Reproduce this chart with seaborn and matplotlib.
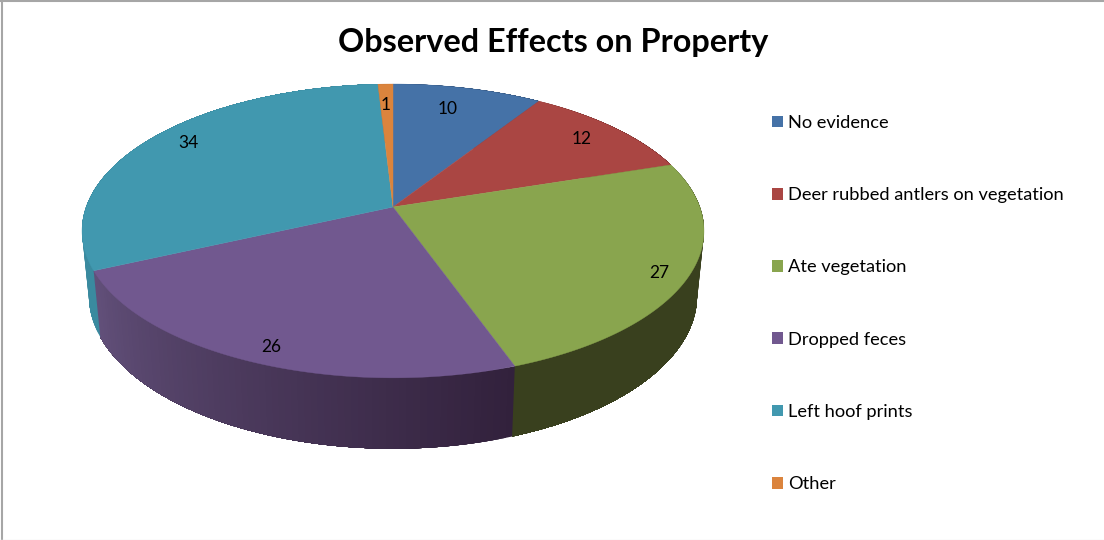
import numpy as np
import matplotlib
matplotlib.use('Agg')
import matplotlib.pyplot as plt
from matplotlib.patches import Patch
import seaborn as sns

# --- data ---
categories = ['No evidence', 'Deer rubbed antlers on vegetation', 'Ate vegetation',
              'Dropped feces', 'Left hoof prints', 'Other']
values = [10, 12, 27, 26, 34, 1]
top_colors = ['#4572A7', '#AA4643', '#89A54E', '#71588F', '#4198AF', '#DB843D']
# side wall shading, first colour at the start of the slice, second at the end (clockwise)
side_start = ['#2B4568', '#692B29', '#39401E', '#32213C', '#3A8A9F', '#8A5226']
side_end = ['#2B4568', '#692B29', '#39401E', '#62507A', '#3A8A9F', '#8A5226']
title = 'Observed Effects on Property'

sns.set_theme(style='white')
plt.rcParams['font.family'] = ['Lato', 'DejaVu Sans']

palette = sns.color_palette(top_colors)

# perspective of the tilted pie, in pixels of the 1104x540 picture
CX, TOP_Y, BOTTOM_Y = 393, 207, 270.7
A, B = 306.8, 143
A_LOW, B_LOW = 300, 149
K = 0.163


def project(theta, r=1.0, low=False):
    # theta is clockwise from 12 o'clock
    x = r * np.sin(theta)
    y = r * np.cos(theta)
    w = 1 + K * y
    if low:
        return CX + A_LOW * x / w, BOTTOM_Y - B_LOW * y / w
    return CX + A * x / w, TOP_Y - B * y / w


fig = plt.figure(figsize=(11.04, 5.40), dpi=100)
ax = fig.add_axes([0, 0, 1, 1])
ax.set_xlim(0, 1104)
ax.set_ylim(540, 0)
ax.axis('off')

edges = np.cumsum([0] + values) / sum(values) * 2 * np.pi

# side walls first, the top hides the back part of them
for i in range(len(values)):
    n = max(2, int(values[i] * 3))
    thetas = np.linspace(edges[i], edges[i + 1], n + 1)
    c0 = np.array(matplotlib.colors.to_rgb(side_start[i]))
    c1 = np.array(matplotlib.colors.to_rgb(side_end[i]))
    # every strip runs on to the end of the slice, so no seams show between strips
    for j in range(n):
        sub = np.linspace(thetas[j], edges[i + 1], 2 * (n - j) + 2)
        xt, yt = project(sub)
        xb, yb = project(sub[::-1], low=True)
        col = c0 + (c1 - c0) * j / max(1, n - 1)
        ax.fill(np.r_[xt, xb], np.r_[yt, yb], color=col, lw=0, zorder=2 + i * 0.01)

# top surface
for i in range(len(values)):
    sub = np.linspace(edges[i], edges[i + 1], 200)
    x, y = project(sub)
    ax.fill(np.r_[CX, x], np.r_[TOP_Y, y], color=palette[i], lw=0.3, zorder=3)

# value labels, inside the rim with small nudges
nudges = [(-11, 6), (-4, 1), (14, 8), (-4, 10), (6, -5), (-1, 6)]
for i, v in enumerate(values):
    mid = (edges[i] + edges[i + 1]) / 2
    lx, ly = project(mid, r=0.86)
    ax.text(lx + nudges[i][0], ly + nudges[i][1], str(v), ha='center', va='center',
            fontsize=12.5, color='black', zorder=5)

ax.text(553, 42.5, title, ha='center', va='center', fontsize=23.3, fontweight='bold',
        color='black')

handles = [Patch(facecolor=c, edgecolor='none') for c in palette]
ax.legend(handles, categories, loc='upper left', bbox_to_anchor=(756, 98.5),
          bbox_transform=ax.transData, frameon=False, fontsize=13.15, labelspacing=3.08,
          handlelength=0.6, handleheight=0.6, handletextpad=0.24, labelcolor='black')

# chart border
ax.plot([1.5, 1.5], [0, 540], color='#A6A6A6', lw=1.5, zorder=6, clip_on=False)
ax.plot([0, 1104], [0.8, 0.8], color='#A6A6A6', lw=1.5, zorder=6, clip_on=False)
ax.plot([0, 1104], [539.5, 539.5], color='#EDEDED', lw=1, zorder=6, clip_on=False)

fig.savefig('out.png', dpi=100)
